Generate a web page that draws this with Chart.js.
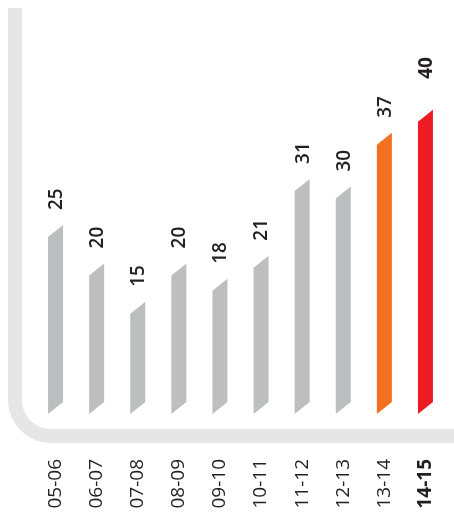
<!DOCTYPE html>
<html>
<head>
<meta charset="utf-8">
<script src="https://cdn.jsdelivr.net/npm/chart.js@4"></script>
<style>
  html, body { margin: 0; padding: 0; background: #ffffff; }
  #wrap { width: 454px; height: 515px; position: relative; }
</style>
</head>
<body>
<div id="wrap"><canvas id="c" width="454" height="515"></canvas></div>
<script>
// ---- data ----
const categories = ["05-06", "06-07", "07-08", "08-09", "09-10", "10-11", "11-12", "12-13", "13-14", "14-15"];
const values = [25, 20, 15, 20, 18, 21, 31, 30, 37, 40];
const highlightIndex = 9;

const GRAY = "#bcbec0";
const ORANGE = "#f37021";
const RED = "#ed1c24";
const TEXT = "#231f20";
const FRAME = "#e5e6e5";

const barColors = categories.map((c, i) => i === categories.length - 1 ? RED : (i === categories.length - 2 ? ORANGE : GRAY));

const SLANT = 12;      // vertical skew of the bar tops/bottoms
const BASE_GAP = 15;   // gap between bar bottom and the frame
const LABEL_GAP = 15;

const framePlugin = {
  id: "frame",
  beforeDraw(chart) {
    const ctx = chart.ctx;
    const area = chart.chartArea;
    const lw = 14;
    const cx = 15;
    const cy = area.bottom + lw / 2;
    const r = 36;
    ctx.save();
    ctx.strokeStyle = FRAME;
    ctx.lineWidth = lw;
    ctx.lineCap = "butt";
    ctx.beginPath();
    ctx.moveTo(cx, 8);
    ctx.lineTo(cx, cy - r);
    ctx.arcTo(cx, cy, cx + r, cy, r);
    ctx.lineTo(chart.width, cy);
    ctx.stroke();
    ctx.restore();
  }
};

const skewBarsPlugin = {
  id: "skewBars",
  beforeDatasetsDraw(chart) {
    const ctx = chart.ctx;
    chart.data.datasets.forEach((ds, di) => {
      const meta = chart.getDatasetMeta(di);
      meta.data.forEach((bar, i) => {
        const p = bar.getProps(["x", "y", "base", "width"], true);
        const l = p.x - p.width / 2, r = p.x + p.width / 2;
        const bottom = p.base - BASE_GAP;
        ctx.save();
        ctx.fillStyle = Array.isArray(ds.backgroundColor) ? ds.backgroundColor[i] : ds.backgroundColor;
        ctx.beginPath();
        ctx.moveTo(l, p.y);
        ctx.lineTo(r, p.y - SLANT);
        ctx.lineTo(r, bottom - SLANT);
        ctx.lineTo(l, bottom);
        ctx.closePath();
        ctx.fill();
        ctx.restore();

        // value label, rotated
        const bold = i === highlightIndex;
        const gap = bold ? 31 : LABEL_GAP;
        ctx.save();
        ctx.translate(p.x, p.y - SLANT - gap);
        ctx.rotate(-Math.PI / 2);
        ctx.fillStyle = TEXT;
        ctx.font = (bold ? "700 " : "600 ") + "19px 'Open Sans'";
        ctx.textAlign = "left";
        ctx.textBaseline = "middle";
        ctx.fillText(String(ds.data[i]), 0, 1);
        ctx.restore();
      });
    });
    return false;
  }
};

new Chart(document.getElementById("c"), {
  type: "bar",
  data: {
    labels: categories,
    datasets: [{
      data: values,
      backgroundColor: barColors,
      barThickness: 15
    }]
  },
  options: {
    responsive: false,
    animation: false,
    events: [],
    layout: { padding: { left: 35, right: 8, top: 45, bottom: 7 } },
    plugins: { legend: { display: false }, tooltip: { enabled: false } },
    scales: {
      y: {
        display: false,
        min: 0,
        max: 50
      },
      x: {
        grid: { display: false, drawTicks: false },
        border: { display: false },
        afterFit: (scale) => {
          scale.height = 79;
          scale.paddingLeft = 0;
          scale.paddingRight = 0;
        },
        ticks: {
          minRotation: 90,
          maxRotation: 90,
          padding: 30,
          color: TEXT,
          font: (c) => ({
            family: "'Open Sans'",
            size: 19,
            weight: c.index === highlightIndex ? "700" : "400"
          })
        }
      }
    }
  },
  plugins: [framePlugin, skewBarsPlugin]
});
</script>
</body>
</html>
